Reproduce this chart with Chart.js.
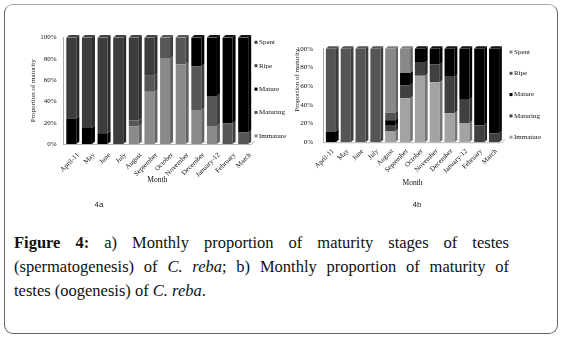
<!DOCTYPE html>
<html><head><meta charset="utf-8">
<script src="https://cdn.jsdelivr.net/npm/chart.js@4/dist/chart.umd.min.js"></script>
<style>
body{margin:0;width:563px;height:338px;background:#fff;overflow:hidden;position:relative;font-family:"Liberation Serif",serif}
#frame{position:absolute;left:4px;top:4px;width:554px;height:330px;border:1.5px solid #666;border-top-color:#aaa;border-radius:9px;box-sizing:border-box}
.wrap{position:absolute}
.tag{position:absolute;font:8px "Liberation Sans",sans-serif;color:#222;transform:translate(-50%,-50%)}
.cap{position:absolute;left:14px;width:495px;font:16.5px/24px "Liberation Serif",serif;color:#111;white-space:nowrap}
.just{text-align:justify;text-align-last:justify;white-space:normal}
</style></head>
<body>
<div id="frame"></div>
<div class="wrap" style="left:8px;top:26px"><canvas id="ca" width="284" height="176"></canvas></div>
<div class="wrap" style="left:288px;top:34px"><canvas id="cb" width="272" height="170"></canvas></div>
<div class="tag" style="left:99px;top:204px">4a</div>
<div class="tag" style="left:417px;top:204px">4b</div>
<div class="cap just" style="top:231px"><b>Figure 4:</b> a) Monthly proportion of maturity stages of testes</div>
<div class="cap just" style="top:255px">(spermatogenesis) of <i>C. reba</i>; b) Monthly proportion of maturity of</div>
<div class="cap" style="top:279px">testes (oogenesis) of <i>C. reba</i>.</div>
<script>
// ---- data ----
const months = ['April-11','May','June','July','August','September','October','November','December','January-12','February','March'];
const stageNames = ['Immature','Maturing','Mature','Ripe','Spent'];
const yTickValues = [0,10,20,30,40,50,60,70,80,90,100];

// 4a: spermatogenesis (%)
const aImmature = [0,0,0,0,16.5,49,80,75,32,17,0,0];
const aMaturing = [0,0,0,0,5.5,15,20,25,41,28,19.5,10.7];
const aMature   = [24,15,10,0,0,0,0,0,27,55,80.5,89.3];
const aRipe     = [0,0,0,0,0,0,0,0,0,0,0,0];
const aSpent    = [76,85,90,100,78,36,0,0,0,0,0,0];

// 4b: oogenesis (%)
const bImmature = [0,0,0,0,11.5,47,71,64,31,20.5,0,0];
const bMaturing = [0,0,0,0,6,14,14,19,39,25,18,9.5];
const bMature   = [11.5,0,0,0,6,13,15,17,30,54.5,82,90.5];
const bRipe     = [88.5,100,100,100,8,0,0,0,0,0,0,0];
const bSpent    = [0,0,0,0,68.5,26,0,0,0,0,0,0];

const aColors = ['#8a8a8a','#575757','#000000','#4a4a4a','#3d3d3d'];
const bColors = ['#a3a3a3','#404040','#000000','#555555','#898989'];

function shade(hex, f, add){
  const n = parseInt(hex.slice(1),16);
  const c = [(n>>16)&255,(n>>8)&255,n&255].map(v=>Math.max(0,Math.min(255,Math.round(v*f+(add||0)))));
  return 'rgb('+c.join(',')+')';
}

const bar3d = {
  id:'bar3d',
  beforeDatasetsDraw(chart, args, o){
    const {left,right,bottom} = chart.chartArea; const ctx = chart.ctx;
    ctx.save(); ctx.strokeStyle='#b5b5b5'; ctx.lineWidth=1;
    ctx.beginPath();
    ctx.moveTo(left, bottom+0.5); ctx.lineTo(right, bottom+0.5);
    ctx.lineTo(right+o.dx+1, bottom-o.dy-0.5);
    ctx.stroke();
    ctx.strokeStyle='#dcdcdc';
    ctx.beginPath(); ctx.moveTo(left+o.dx, bottom-o.dy+0.5); ctx.lineTo(right+o.dx+1, bottom-o.dy+0.5); ctx.stroke();
    ctx.restore();
  },
  afterDatasetsDraw(chart, args, o){
    const ctx = chart.ctx; const dx=o.dx, dy=o.dy;
    const tops = [];
    ctx.save();
    chart.data.datasets.forEach((ds, di) => {
      const meta = chart.getDatasetMeta(di);
      meta.data.forEach((el, i) => {
        const p = el.getProps(['x','y','base','width'], true);
        if (Math.abs(p.base - p.y) < 0.05) return;
        const l = p.x - p.width/2, r = p.x + p.width/2;
        const t = Math.min(p.y, p.base), b = Math.max(p.y, p.base);
        ctx.fillStyle = shade(ds.backgroundColor, 0.72, 0);
        ctx.beginPath(); ctx.moveTo(r,t); ctx.lineTo(r+dx,t-dy); ctx.lineTo(r+dx,b-dy); ctx.lineTo(r,b); ctx.closePath(); ctx.fill();
        tops[i] = {l, r, t, c: ds.backgroundColor};
      });
    });
    tops.forEach(tp => {
      if (!tp) return;
      ctx.fillStyle = shade(tp.c, 0.8, 18);
      ctx.beginPath(); ctx.moveTo(tp.l,tp.t); ctx.lineTo(tp.l+dx,tp.t-dy); ctx.lineTo(tp.r+dx,tp.t-dy); ctx.lineTo(tp.r,tp.t); ctx.closePath(); ctx.fill();
    });
    ctx.restore();
  }
};

const sideLegend = {
  id:'sideLegend',
  afterDraw(chart, args, o){
    const ctx = chart.ctx; const ds = chart.data.datasets;
    ctx.save(); ctx.font = '7px "Liberation Serif"'; ctx.textBaseline = 'middle';
    for (let k=0;k<ds.length;k++){
      const d = ds[ds.length-1-k]; const y = o.y0 + k*o.gap;
      ctx.fillStyle = d.backgroundColor; ctx.fillRect(o.x, y-1.5, 3, 3);
      ctx.fillStyle = '#111'; ctx.fillText(d.label, o.x+4.5, y);
    }
    ctx.restore();
  }
};

function makeChart(id, series, colors, cfg){
  const font = {family:'"Liberation Serif"', size:7};
  return new Chart(document.getElementById(id), {
    type:'bar',
    data:{ labels: months, datasets: series.map((s,k)=>({label: stageNames[k], data: s, backgroundColor: colors[k], borderWidth:0, barPercentage: cfg.bp, categoryPercentage:1})) },
    plugins:[bar3d, sideLegend],
    options:{
      responsive:false, animation:false, devicePixelRatio:1,
      layout:{padding:cfg.pad},
      plugins:{legend:{display:false}, tooltip:{enabled:false}, bar3d:{dx:cfg.dx, dy:cfg.dy}, sideLegend:cfg.legend},
      scales:{
        x:{stacked:true, grid:{display:false, drawTicks:false}, border:{display:false},
           ticks:{font, color:'#111', maxRotation:45, minRotation:45, autoSkip:false, padding:cfg.xp, labelOffset:cfg.lo},
           title:{display:true, text:'Month', font:{family:'"Liberation Serif"', size:7.5}, color:'#111', padding:0},
           afterFit(s){ s.height = cfg.xh; }},
        y:{stacked:true, min:0, max:100, afterBuildTicks(s){ s.ticks = yTickValues.map(v=>({value:v})); },
           ticks:{font, color:'#111', padding:cfg.tp, callback:v=>v+'%'},
           grid:{display:false, drawTicks:false}, border:{display:true, color:'#a8a8a8'},
           title:{display:true, text:'Proportion of maturity', font, color:'#111', padding:0, align:cfg.talign},
           afterFit(s){ s.width = cfg.yw; }}
      }
    }
  });
}

makeChart('ca', [aImmature,aMaturing,aMature,aRipe,aSpent], aColors,
  {bp:0.64, dx:3, dy:2.5, pad:{left:21, right:41, top:11.5, bottom:17.5}, yw:34.5, xh:40.5, tp:7, talign:'center',
   xp:7, lo:7, legend:{x:246.5, y0:16.3, gap:23.4}});
makeChart('cb', [bImmature,bMaturing,bMature,bRipe,bSpent], bColors,
  {bp:0.68, dx:2.7, dy:2.5, pad:{left:4.8, right:58.5, top:12.5, bottom:16.8}, yw:30.7, xh:45, tp:10.5, talign:'end',
   xp:5, lo:2, legend:{x:221.5, y0:18, gap:21.3}});
</script>
</body></html>
